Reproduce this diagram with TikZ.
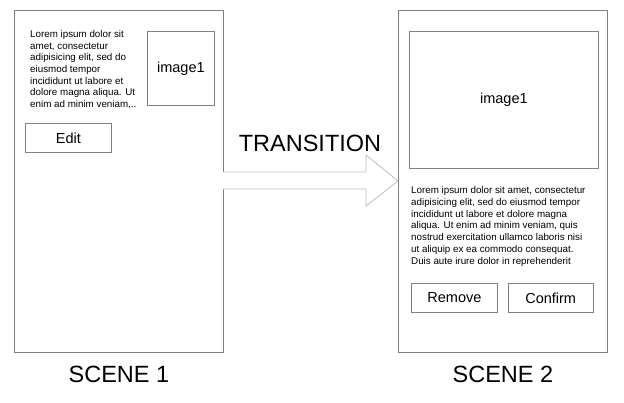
\documentclass[tikz,border=0pt]{standalone}
\usepackage{fontspec}
\setmainfont{Liberation Sans}
\usetikzlibrary{positioning}
\definecolor{framegray}{RGB}{128,128,128}
\definecolor{arrowgray}{RGB}{190,190,190}

\begin{document}
\begin{tikzpicture}[x=1pt, y=-1pt, node distance=10pt,
  frame/.style={draw=framegray, line width=0.8pt, minimum width=209pt, minimum height=342pt, inner sep=0pt},
  btn/.style={draw=framegray, line width=0.8pt, minimum width=86pt, minimum height=29pt, inner sep=0pt, font=\fontsize{14.5}{16}\selectfont},
  img/.style={draw=framegray, line width=0.8pt, inner sep=0pt, font=\fontsize{14.5}{16}\selectfont},
  lorem/.style={align=left, inner sep=0pt, anchor=north west, font=\fontsize{9.8}{11.7}\selectfont},
  title/.style={font=\fontsize{23.5}{26}\selectfont}]
  \useasboundingbox (0,0) rectangle (624,402);

  % scene 1
  \node[frame, anchor=north west] (S1) at (14,10) {};
  \node[img, minimum width=67pt, minimum height=74pt, anchor=north west] (I1) at (147,31) {image1};
  \node[lorem] (T1) at (30,30) {Lorem ipsum dolor sit\\amet, consectetur\\adipisicing elit, sed do\\eiusmod tempor\\incididunt ut labore et\\dolore magna aliqua. Ut\\enim ad minim veniam,..};
  \node[btn, anchor=north west] (E1) at (25,123) {Edit};
  \node[title, below=10pt of S1] (L1) {SCENE 1};

  % scene 2
  \node[frame, anchor=north west] (S2) at (398,10) {};
  \node[img, minimum width=189pt, minimum height=137pt, anchor=north west] (I2) at (409,31) {image1};
  \node[lorem] (T2) at (411,186.5) {Lorem ipsum dolor sit amet, consectetur\\adipisicing elit, sed do eiusmod tempor\\incididunt ut labore et dolore magna\\aliqua. Ut enim ad minim veniam, quis\\nostrud exercitation ullamco laboris nisi\\ut aliquip ex ea commodo consequat.\\Duis aute irure dolor in reprehenderit};
  \node[btn, anchor=north west] (R2) at (411,283) {Remove};
  \node[btn, right=10pt of R2, minimum width=85pt] (C2) {Confirm};
  \node[title, below=10pt of S2] (L2) {SCENE 2};

  % transition
  \draw[arrowgray, line width=0.8pt, fill=white]
    (223,172) -- (366,172) -- (366,155) -- (S2.west |- 0,181) -- (366,206) -- (366,189) -- (223,189);
  \node[title] (TR) at (310,143) {TRANSITION};
\end{tikzpicture}
\end{document}
